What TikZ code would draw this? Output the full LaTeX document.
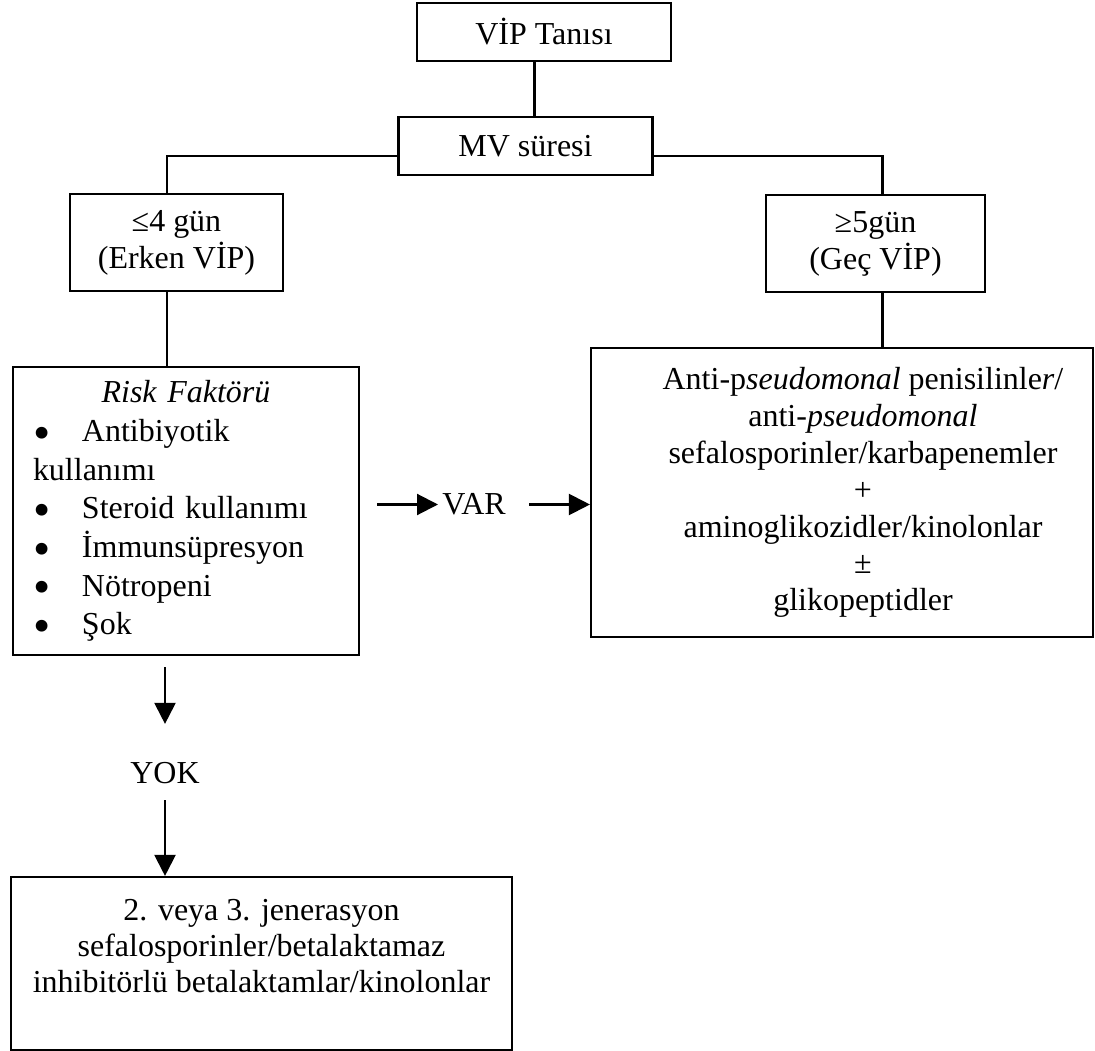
\documentclass[tikz,border=0pt]{standalone}
\usepackage{fontspec}
\setmainfont{Liberation Serif}
\usepackage{tikz}
\usetikzlibrary{arrows.meta,positioning,calc}
\tikzset{box/.style={draw,line width=1.2pt,align=center,inner sep=0pt},
	conn/.style={line width=1.2pt},
	arr/.style={line width=1.2pt,-{Triangle[length=0.42cm,width=0.42cm]}}}
\newcommand{\riskbul}{\makebox[0.98cm][l]{\smash{\fontsize{28pt}{28pt}\selectfont\raisebox{-4.5pt}{\textbullet}}}}

\begin{document}
\begin{tikzpicture}[font=\fontsize{18.2pt}{21pt}\selectfont]
		\useasboundingbox (0,0) rectangle (21.9,-21.02);
		\node[box,minimum width=5.08cm,minimum height=1.16cm] (tani) at (10.88,-0.64) {VİP Tanısı};
		\node[box,minimum width=5.08cm,minimum height=1.16cm] (mv) at (10.51,-2.92) {MV süresi};
		\node[box,minimum width=4.26cm,minimum height=1.94cm] (erken) at (3.53,-4.85) {≤4 gün\\(Erken VİP)};
		\node[box,minimum width=4.38cm,minimum height=1.94cm] (gec) at (17.51,-4.87) {≥5gün\\(Geç VİP)};
		\node[box,align=left,text width=6.12cm,inner xsep=0.4cm,minimum height=5.76cm,
			execute at begin node=\setlength{\baselineskip}{22pt}] (risk) at (3.72,-10.22)
			{\makebox[6.12cm]{\textit{Risk Faktörü}}\\
			\riskbul Antibiyotik\\
			kullanımı\\
			\riskbul Steroid kullanımı\\
			\riskbul İmmunsüpresyon\\
			\riskbul Nötropeni\\
			\riskbul Şok};
		\node[box,minimum width=10.04cm,minimum height=5.78cm] (antibio) at (16.84,-9.85) {};
		\node[align=center,inner sep=0pt] (antibiotxt) at ($(antibio.center)+(0.42,0)$)
			{Anti-p\textit{seudomonal} penisilinle\textit{r}/\\
			anti-\textit{pseudomonal}\\
			sefalosporinler/karbapenemler\\
			+\\
			aminoglikozidler/kinolonlar\\
			±\\
			glikopeptidler};
		\node[inner sep=0pt,anchor=west] (var) at (8.84,-10.09) {VAR};
		\node[inner sep=0pt] (yok) at (3.3,-15.46) {YOK};
		\node[box,minimum width=10.02cm,minimum height=3.46cm,
			execute at begin node=\setlength{\baselineskip}{20.5pt}] (tedavi) at (5.23,-19.27)
			{2. veya 3. jenerasyon\\
			sefalosporinler/betalaktamaz\\
			inhibitörlü betalaktamlar/kinolonlar\\
			~};
		\coordinate (top) at ($(tani.south)+(-0.19,0)$);
		\coordinate (lft) at ($(erken.north)+(-0.19,0)$);
		\coordinate (rgt) at ($(gec.north)+(0.14,0)$);
		\draw[conn] (top) -- (mv.north -| top);
		\draw[conn] ($(mv.west)+(0,-0.2)$) -| (lft);
		\draw[conn] ($(mv.east)+(0,-0.2)$) -| (rgt);
		\draw[conn] (erken.south -| lft) -- (risk.north -| lft);
		\draw[conn] (gec.south -| rgt) -- (antibio.north -| rgt);
		\draw[arr] ($(risk.east |- var.west)+(0.34,0)$) -- ($(var.west)+(-0.08,0)$);
		\draw[arr] ($(var.east)+(0.46,0)$) -- (antibio.west |- var.west);
		\draw[arr] ($(risk.south -| yok)+(0,-0.22)$) -- ($(yok.north)+(0,0.76)$);
		\draw[arr] ($(yok.south)+(0,-0.32)$) -- (yok |- tedavi.north);
\end{tikzpicture}
\end{document}
